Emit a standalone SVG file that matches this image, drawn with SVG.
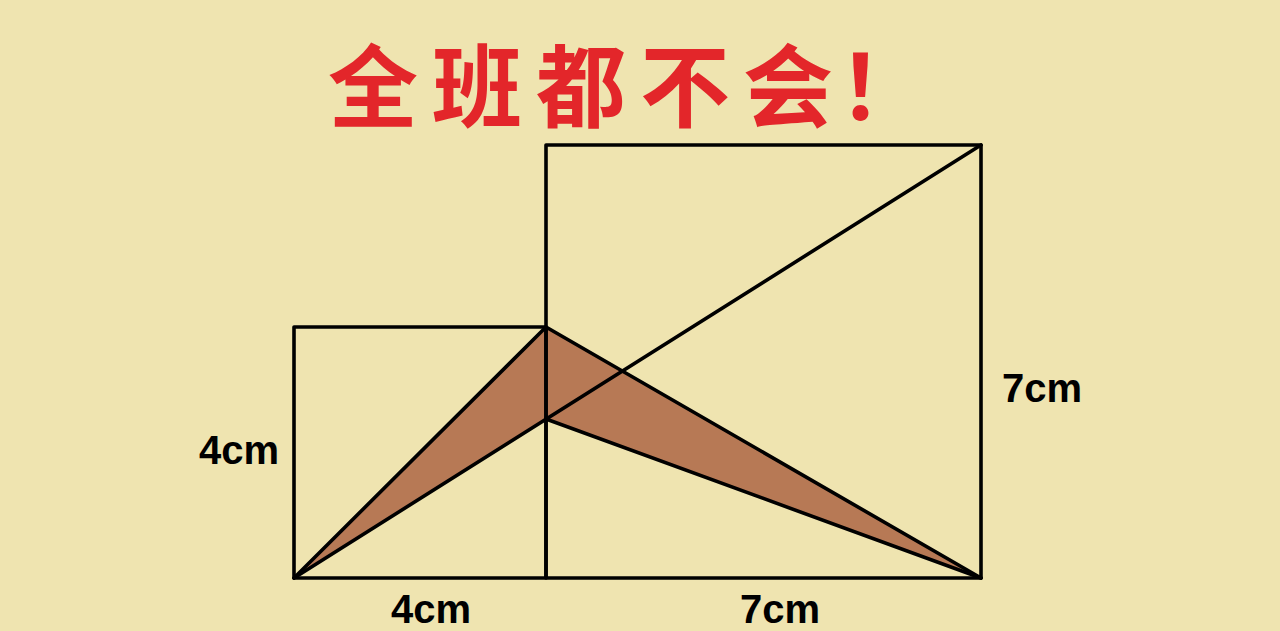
<svg xmlns="http://www.w3.org/2000/svg" width="1280" height="631" viewBox="0 0 1280 631">
<style>
.ln{stroke:#000;stroke-width:3.6;fill:none;stroke-linejoin:round;stroke-linecap:round}
.lbl{font-family:"Liberation Sans",Arial,sans-serif;font-weight:bold;font-size:40px;fill:#000}
.title{font-family:"Noto Sans CJK SC","Noto Sans CJK TC",sans-serif;font-weight:bold;font-size:90px;fill:#E3262A}
</style>
<rect width="1280" height="631" fill="#EFE4B0"/>
<g id="title"><text class="title" x="328 432 536 640 743 838" y="120">全班都不会！</text></g>
<g id="shade"><polygon points="294,578 546,327 981,578 546,419" fill="#B77955"/></g>
<g id="connectors">
<rect class="ln" x="294" y="327" width="252" height="251"/>
<rect class="ln" x="546" y="145" width="435" height="433"/>
<line class="ln" x1="294" y1="578" x2="981" y2="145"/>
<line class="ln" x1="294" y1="578" x2="546" y2="327"/>
<line class="ln" x1="546" y1="327" x2="981" y2="578"/>
<line class="ln" x1="546" y1="419" x2="981" y2="578"/>
</g>
<g id="labels">
<text class="lbl" x="199" y="464">4cm</text>
<text class="lbl" x="1002" y="402">7cm</text>
<text class="lbl" x="391" y="623">4cm</text>
<text class="lbl" x="740" y="623">7cm</text>
</g>
</svg>
